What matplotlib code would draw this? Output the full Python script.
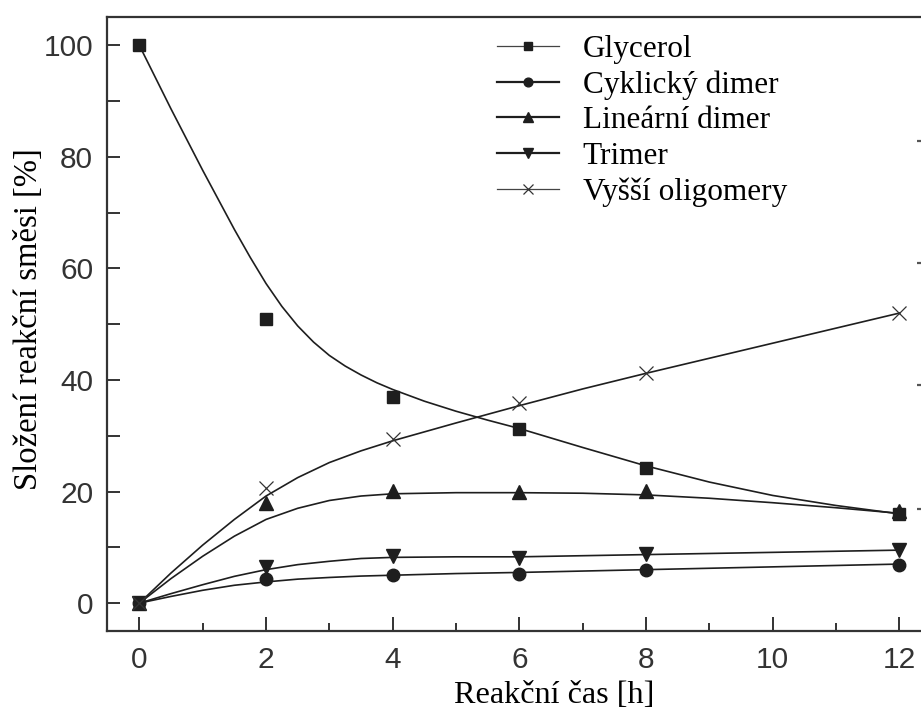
import numpy as np
import matplotlib.pyplot as plt
from matplotlib.lines import Line2D

# measured composition (markers)
t = [0, 2, 4, 6, 8, 12]
glycerol = [100, 51.0, 36.9, 31.2, 24.3, 16.0]
cyclic = [0, 4.4, 5.0, 5.3, 5.9, 6.8]
linear = [0, 18.0, 20.1, 19.9, 20.1, 16.6]
trimer = [0, 6.5, 8.4, 8.1, 8.8, 9.6]
oligo = [0, 20.6, 29.4, 35.9, 41.3, 52.0]

# fitted curves
t_gly = [0, 0.5, 1, 1.5, 1.75, 2, 2.25, 2.5, 2.75, 3, 3.25, 3.5, 3.75, 4,
         4.5, 5, 5.5, 6, 7, 8, 9, 10, 11, 12]
glycerol_fit = [100, 88.6, 77.6, 67.0, 62.0, 57.3, 53.2, 49.7, 46.8, 44.4, 42.5,
                40.9, 39.5, 38.3, 36.2, 34.4, 32.8, 31.3, 27.9, 24.6, 21.7,
                19.3, 17.5, 16.0]
t_fit = [0, 0.5, 1, 1.5, 2, 2.5, 3, 3.5, 4, 5, 6, 7, 8, 9, 10, 11, 12]
cyclic_fit = [0, 1.2, 2.3, 3.2, 3.8, 4.3, 4.6, 4.85, 5.0, 5.3, 5.5,
              5.75, 6.0, 6.25, 6.5, 6.75, 7.0]
linear_fit = [0, 4.4, 8.4, 12.0, 15.0, 17.0, 18.4, 19.2, 19.6, 19.8, 19.8,
              19.7, 19.4, 18.8, 18.0, 17.1, 16.1]
trimer_fit = [0, 1.7, 3.3, 4.8, 6.0, 6.9, 7.5, 8.0, 8.2, 8.3, 8.3,
              8.5, 8.7, 8.9, 9.1, 9.3, 9.5]
oligo_fit = [0, 5.4, 10.4, 15.0, 19.2, 22.5, 25.2, 27.3, 29.1, 32.3, 35.4,
             38.4, 41.2, 43.9, 46.6, 49.3, 52.0]

labels = ['Glycerol', 'Cyklický dimer', 'Lineární dimer', 'Trimer', 'Vyšší oligomery']

c = '#1e1e1e'
serif = ['Liberation Serif', 'DejaVu Serif']
sans = ['Liberation Sans', 'DejaVu Sans']

fig = plt.figure(figsize=(9.21, 7.11), dpi=100)
ax = fig.add_axes([0.1162, 0.1125, 0.8838, 0.863])

series = [
    (glycerol, t_gly, glycerol_fit, 's', 8.5),
    (cyclic, t_fit, cyclic_fit, 'o', 9),
    (linear, t_fit, linear_fit, '^', 9.5),
    (trimer, t_fit, trimer_fit, 'v', 9.5),
    (oligo, t_fit, oligo_fit, 'x', 10),
]

handles = []
for (y, tf, yf, m, ms), lab in zip(series, labels):
    ax.plot(tf, yf, '-', color=c, lw=1.2, zorder=2)
    if m == 'x':
        ax.plot(t, y, ls='none', marker=m, ms=ms, mew=0.9, color='#333333', zorder=3)
    else:
        ax.plot(t, y, ls='none', marker=m, ms=ms, color=c, mec=c, zorder=3)
    thin = lab in ('Glycerol', 'Vyšší oligomery')
    handles.append(Line2D([], [], color='#444444' if thin else c, lw=0.9 if thin else 1.6,
                          marker=m, ms=ms * 0.7, mew=0.9 if m == 'x' else 1,
                          mfc='none' if m == 'x' else c,
                          mec='#333333' if m == 'x' else c, label=lab))

ax.set_xlim(-0.51, 12.34)
ax.set_ylim(-5, 105)
ax.set_xticks(range(0, 13, 2))
ax.set_xticks(range(1, 12, 2), minor=True)
ax.set_yticks(range(0, 101, 20))
ax.set_yticks(range(10, 100, 20), minor=True)

for s in ['left', 'bottom', 'top']:
    ax.spines[s].set_linewidth(1.6)
    ax.spines[s].set_color('#333333')
ax.spines['right'].set_visible(False)

ax.tick_params(axis='x', which='major', direction='in', length=10, width=1.4,
               color='#333333', pad=11, top=False)
ax.tick_params(axis='x', which='minor', direction='in', length=5.5, width=1.4,
               color='#333333', top=False)
ax.tick_params(axis='y', which='both', direction='in', length=9.5, width=1.4,
               color='#333333', pad=10, right=False)
for lbl in ax.get_xticklabels() + ax.get_yticklabels():
    lbl.set_family(sans)
    lbl.set_fontsize(21.5)
    lbl.set_color('#333333')

# tick stubs of the right-hand axis
ax2 = ax.twinx()
ax2.set_ylim(-5, 105)
ax2.set_yticks([16.9, 39.1, 61.0, 82.9])
ax2.set_yticklabels([])
ax2.tick_params(axis='y', direction='in', length=3, width=1.6, color='#555555')
for s in ax2.spines.values():
    s.set_visible(False)

ax.set_xlabel('Reakční čas [h]', family=serif, fontsize=23.2)
ax.set_ylabel('Složení reakční směsi [%]', family=serif, fontsize=23.5)
ax.xaxis.set_label_coords(0.549, -0.081)
ax.yaxis.set_label_coords(-0.078, 0.508)

ax.legend(handles=handles, loc='upper left', bbox_to_anchor=(0.479, 0.972),
          frameon=False, prop={'family': serif, 'size': 22.5}, handlelength=2.0,
          handletextpad=0.74, labelspacing=0.21, borderpad=0, borderaxespad=0)

fig.savefig('out.png', dpi=100)
